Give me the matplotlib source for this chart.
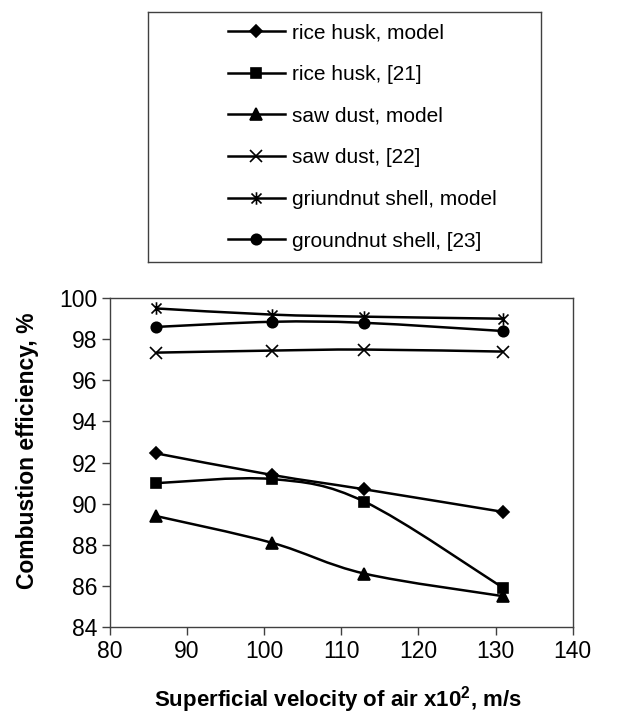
import numpy as np
import matplotlib.pyplot as plt
from matplotlib.path import Path
from matplotlib.patches import PathPatch
from matplotlib.lines import Line2D

plt.rcParams['font.family'] = ['Liberation Sans', 'DejaVu Sans']
plt.rcParams['mathtext.fontset'] = 'custom'
plt.rcParams['mathtext.bf'] = 'Liberation Sans:bold'
plt.rcParams['mathtext.rm'] = 'Liberation Sans:bold'

# data
velocity = [86, 101, 113, 131]
rice_model = [92.45, 91.4, 90.7, 89.6]
rice_21 = [91.0, 91.2, 90.1, 85.9]
saw_model = [89.4, 88.1, 86.6, 85.5]
saw_22 = [97.35, 97.45, 97.5, 97.4]
gnut_model = [99.5, 99.2, 99.1, 99.0]
gnut_23 = [98.6, 98.85, 98.8, 98.4]

labels = ["rice husk, model", "rice husk, [21]", "saw dust, model",
          "saw dust, [22]", "griundnut shell, model", "groundnut shell, [23]"]

# asterisk marker like excel: x plus vertical bar
ast = Path([(-1, -1), (1, 1), (-1, 1), (1, -1), (0, -1.25), (0, 1.25)],
           [Path.MOVETO, Path.LINETO, Path.MOVETO, Path.LINETO, Path.MOVETO, Path.LINETO])

series = [rice_model, rice_21, saw_model, saw_22, gnut_model, gnut_23]
markers = ['D', 's', '^', 'x', ast, 'o']
msizes = [6, 7, 8, 8, 9, 7.5]


def smooth_path(x, y):
    # excel style smoothed line (bezier through the points)
    p = np.column_stack([x, y]).astype(float)
    n = len(p)
    verts = [p[0]]
    codes = [Path.MOVETO]
    for i in range(n - 1):
        p0 = p[i - 1] if i > 0 else p[i]
        p3 = p[i + 2] if i + 2 < n else p[i + 1]
        c1 = p[i] + (p[i + 1] - p0) / 6
        c2 = p[i + 1] - (p3 - p[i]) / 6
        verts += [c1, c2, p[i + 1]]
        codes += [Path.CURVE4] * 3
    return Path(verts, codes)


fig = plt.figure(figsize=(6.35, 7.15), dpi=100)
ax = fig.add_axes([0.173, 0.123, 0.729, 0.460])

for yv, m, ms in zip(series, markers, msizes):
    ax.add_patch(PathPatch(smooth_path(velocity, yv), fill=False, lw=1.8,
                           edgecolor='black', transform=ax.transData))
    ax.plot(velocity, yv, linestyle='none', marker=m, ms=ms, color='black',
            mew=1.2)

ax.set_xlim(80, 140)
ax.set_ylim(84, 100)
ax.set_xticks(range(80, 141, 10))
ax.set_yticks(range(84, 101, 2))
ax.tick_params(direction='out', length=6, width=1, labelsize=16.5, pad=3,
               color='#404040')
for sp in ax.spines.values():
    sp.set_color('#404040')
    sp.set_linewidth(1)
ax.set_xlabel(r"Superficial velocity of air x10$^{\mathbf{2}}$, m/s",
              fontsize=16, fontweight='bold')
ax.xaxis.set_label_coords(0.492, -0.174)
ax.set_ylabel("Combustion efficiency, %", fontsize=16.5, fontweight='bold')
ax.yaxis.set_label_coords(-0.153, 0.535)

# legend in its own box above the plot
lax = fig.add_axes([0.233, 0.634, 0.619, 0.349])
lax.set_xticks([])
lax.set_yticks([])
for sp in lax.spines.values():
    sp.set_color('#404040')
    sp.set_linewidth(1)
handles = [Line2D([], [], color='black', lw=1.8, marker=m, ms=ms, mew=1.2)
           for m, ms in zip(markers, msizes)]
lax.legend(handles, labels, loc='center left', bbox_to_anchor=(0.177, 0.5),
           frameon=False, fontsize=15, handlelength=2.74, handletextpad=0.34,
           labelspacing=1.09, borderpad=0)

fig.savefig('out.png', dpi=100)
